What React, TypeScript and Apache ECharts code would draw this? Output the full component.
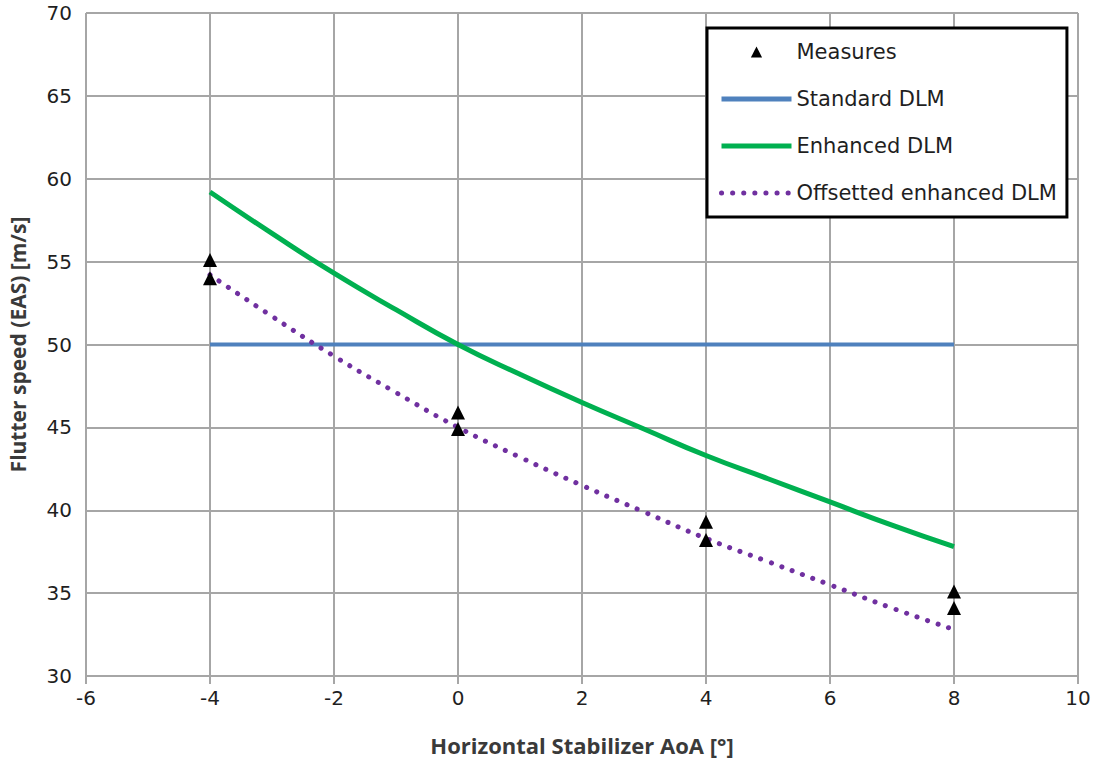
import React, { useEffect, useRef } from "react";
import * as echarts from "echarts";

// Horizontal stabilizer angle of attack [°]
const aoaCurve = [-4, -3, -2, -1, 0, 1, 2, 3, 4, 5, 6, 7, 8];
const standardDLM = [50, 50, 50, 50, 50, 50, 50, 50, 50, 50, 50, 50, 50];
const enhancedDLM = [59.2, 56.7, 54.3, 52.1, 50.0, 48.2, 46.5, 44.9, 43.3, 41.9, 40.5, 39.1, 37.8];
const offsettedDLM = [54.2, 51.7, 49.3, 47.1, 45.0, 43.2, 41.5, 39.9, 38.3, 36.9, 35.5, 34.1, 32.8];

// Wind tunnel measurements
const measureAoA = [-4, -4, 0, 0, 4, 4, 8, 8];
const measureSpeed = [55.1, 54.0, 45.9, 44.9, 39.3, 38.2, 35.1, 34.1];

const xTicks = { min: -6, max: 10, interval: 2 };
const yTicks = { min: 30, max: 70, interval: 5 };

const FONT = "'DejaVu Sans', sans-serif";
const TITLE_FONT = "'Open Sans', sans-serif";
const GRID = "#a6a6a6";
const TEXT = "#1f1f1f";

const BLUE = "#4f81bd";
const GREEN = "#00b050";
const PURPLE = "#7030a0";
const DOTS = [0.1, 11];

const pairs = (xs: number[], ys: number[]) => xs.map((x, i) => [x, ys[i]]);

export default function App() {
  const ref = useRef<HTMLDivElement>(null);

  useEffect(() => {
    if (!ref.current) return;
    const chart = echarts.init(ref.current, undefined, { renderer: "svg" });
    const hidden = { opacity: 0 };
    chart.setOption({
      animation: false,
      backgroundColor: "#ffffff",
      grid: { left: 86, right: 17, top: 13, bottom: 87, containLabel: false, outerBoundsMode: "none" },
      textStyle: { fontFamily: FONT },
      xAxis: {
        type: "value",
        ...xTicks,
        name: "Horizontal Stabilizer AoA [°]",
        nameLocation: "middle",
        nameGap: 58,
        nameTextStyle: { fontFamily: TITLE_FONT, fontSize: 22, fontWeight: "bold", color: "#3a3a3a" },
        axisLine: { onZero: false, lineStyle: { color: GRID, width: 2 } },
        axisTick: { show: true, inside: false, length: 8, lineStyle: { color: GRID, width: 2 } },
        axisLabel: { fontFamily: FONT, fontSize: 20, color: TEXT, margin: 12 },
        splitLine: { show: true, lineStyle: { color: GRID, width: 2 } },
      },
      yAxis: {
        type: "value",
        ...yTicks,
        name: "Flutter speed (EAS) [m/s]",
        nameLocation: "middle",
        nameGap: 58,
        nameRotate: 90,
        nameTextStyle: { fontFamily: TITLE_FONT, fontSize: 21, fontWeight: "bold", color: "#3a3a3a" },
        axisLine: { show: true, lineStyle: { color: GRID, width: 2 } },
        axisTick: { show: true, inside: false, length: 8, lineStyle: { color: GRID, width: 2 } },
        axisLabel: { fontFamily: FONT, fontSize: 20, color: TEXT, margin: 14 },
        splitLine: { show: true, lineStyle: { color: GRID, width: 2 } },
      },
      legend: {
        orient: "vertical",
        left: 707,
        top: 28,
        padding: [12, 10, 12, 12],
        borderColor: "#000",
        borderWidth: 3,
        backgroundColor: "#fff",
        itemWidth: 70,
        itemHeight: 14,
        itemGap: 23,
        textStyle: { fontFamily: FONT, fontSize: 21, color: TEXT, lineHeight: 24 },
        data: [
          { name: "Measures" },
          { name: "Standard DLM", itemStyle: hidden, lineStyle: { color: BLUE, width: 5 } },
          { name: "Enhanced DLM", itemStyle: hidden, lineStyle: { color: GREEN, width: 5 } },
          {
            name: "Offsetted enhanced DLM",
            itemStyle: hidden,
            lineStyle: { color: PURPLE, width: 5, type: DOTS, cap: "round" },
          },
        ],
      },
      series: [
        {
          name: "Measures",
          type: "line",
          data: pairs(measureAoA, measureSpeed),
          symbol: "triangle",
          symbolSize: 14,
          showSymbol: true,
          itemStyle: { color: "#000" },
          lineStyle: { width: 0, opacity: 0 },
          z: 5,
        },
        {
          name: "Standard DLM",
          type: "line",
          data: pairs(aoaCurve, standardDLM),
          symbol: "none",
          itemStyle: { color: BLUE },
          lineStyle: { color: BLUE, width: 4 },
        },
        {
          name: "Enhanced DLM",
          type: "line",
          data: pairs(aoaCurve, enhancedDLM),
          symbol: "none",
          smooth: true,
          itemStyle: { color: GREEN },
          lineStyle: { color: GREEN, width: 5 },
        },
        {
          name: "Offsetted enhanced DLM",
          type: "line",
          data: pairs(aoaCurve, offsettedDLM),
          symbol: "none",
          smooth: true,
          itemStyle: { color: PURPLE },
          lineStyle: { color: PURPLE, width: 5, type: DOTS, cap: "round" },
        },
      ],
    });
    return () => chart.dispose();
  }, []);

  return <div ref={ref} style={{ position: "fixed", left: 0, top: 0, width: 1095, height: 763 }} />;
}
